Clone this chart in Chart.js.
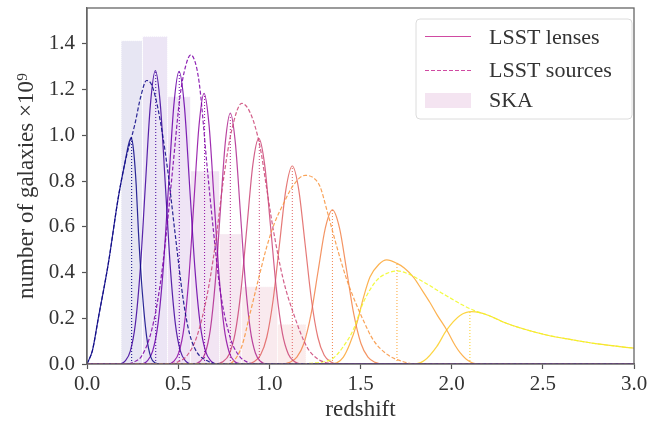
<!DOCTYPE html>
<html>
<head>
<meta charset="utf-8">
<script src="https://cdn.jsdelivr.net/npm/chart.js"></script>
<style>
  html, body { margin: 0; padding: 0; background: #fff; }
  #wrap { width: 658px; height: 424px; }
</style>
</head>
<body>
<div id="wrap"><canvas id="zchart" width="658" height="424"></canvas></div>
<script>
// redshift distributions, [z, number of galaxies x1e9]
const lens1 = [[0,0],[0.03,0.06],[0.062,0.2],[0.117,0.44],[0.172,0.73],[0.208,0.88],[0.228,0.96],[0.242,0.99],[0.256,0.93],[0.27,0.78],[0.282,0.58],[0.3,0.35],[0.327,0.12],[0.35,0.03],[0.375,0.004],[0.4,0],[3,0]];
const lens2 = [[0,0],[0.17,0],[0.21,0.014],[0.2375,0.056],[0.265,0.173],[0.2925,0.417],[0.32,0.779],[0.3475,1.132],[0.375,1.283],[0.4025,1.132],[0.43,0.779],[0.4575,0.417],[0.485,0.173],[0.5125,0.056],[0.54,0.014],[0.58,0],[3,0]];
const lens3 = [[0,0],[0.29,0],[0.331,0.014],[0.36,0.056],[0.389,0.173],[0.418,0.416],[0.447,0.777],[0.476,1.129],[0.505,1.28],[0.534,1.129],[0.563,0.777],[0.592,0.416],[0.621,0.173],[0.65,0.056],[0.679,0.014],[0.72,0],[3,0]];
const lens4 = [[0,0],[0.44,0],[0.477,0.013],[0.5045,0.052],[0.532,0.16],[0.5595,0.385],[0.587,0.719],[0.6145,1.044],[0.642,1.184],[0.6695,1.044],[0.697,0.719],[0.7245,0.385],[0.752,0.16],[0.7795,0.052],[0.807,0.013],[0.85,0],[3,0]];
const lens5 = [[0,0],[0.58,0],[0.621,0.012],[0.6485,0.048],[0.676,0.148],[0.7035,0.357],[0.731,0.666],[0.7585,0.968],[0.786,1.097],[0.8135,0.968],[0.841,0.666],[0.8685,0.357],[0.896,0.148],[0.9235,0.048],[0.951,0.012],[0.99,0],[3,0]];
const lens6 = [[0,0],[0.7,0],[0.747,0.011],[0.7795,0.043],[0.812,0.133],[0.8445,0.321],[0.877,0.599],[0.9095,0.871],[0.942,0.987],[0.9745,0.871],[1.007,0.599],[1.0395,0.321],[1.072,0.133],[1.1045,0.043],[1.137,0.011],[1.18,0],[3,0]];
const lens7 = [[0,0],[0.87,0],[0.916,0.01],[0.951,0.038],[0.986,0.117],[1.021,0.281],[1.056,0.526],[1.091,0.764],[1.126,0.866],[1.161,0.764],[1.196,0.526],[1.231,0.281],[1.266,0.117],[1.301,0.038],[1.336,0.01],[1.38,0],[3,0]];
const lens8 = [[0,0],[1.06,0],[1.112,0.007],[1.151,0.03],[1.19,0.091],[1.229,0.219],[1.268,0.409],[1.307,0.594],[1.346,0.674],[1.385,0.594],[1.424,0.409],[1.463,0.219],[1.502,0.091],[1.541,0.03],[1.58,0.007],[1.63,0],[3,0]];
const lens9 = [[0,0],[1.33,0],[1.37,0.005],[1.406,0.03],[1.44,0.085],[1.48,0.178],[1.516,0.29],[1.552,0.38],[1.6,0.435],[1.644,0.455],[1.7,0.44],[1.74,0.42],[1.79,0.38],[1.84,0.32],[1.88,0.27],[1.92,0.215],[1.973,0.149],[2.02,0.08],[2.046,0.05],[2.09,0.015],[2.14,0],[3,0]];
const lens10 = [[0,0],[1.8,0],[1.85,0.015],[1.918,0.076],[1.973,0.149],[2.046,0.212],[2.11,0.229],[2.15,0.226],[2.2,0.213],[2.3,0.178],[2.4,0.152],[2.52,0.127],[2.668,0.105],[2.8,0.088],[3,0.069]];

const source1 = [[0,0],[0.03,0.06],[0.062,0.2],[0.117,0.44],[0.172,0.73],[0.208,0.88],[0.263,1.05],[0.295,1.17],[0.327,1.24],[0.355,1.22],[0.391,1.11],[0.44,0.863],[0.483,0.572],[0.528,0.28],[0.56,0.14],[0.6,0.055],[0.657,0.015],[0.72,0],[3,0]];
const source2 = [[0,0],[0.22,0],[0.26,0.01],[0.3,0.035],[0.355,0.149],[0.4,0.34],[0.437,0.586],[0.473,0.878],[0.51,1.17],[0.54,1.3],[0.569,1.352],[0.6,1.3],[0.62,1.2],[0.657,0.878],[0.693,0.586],[0.73,0.324],[0.784,0.119],[0.83,0.04],[0.88,0.008],[0.93,0],[3,0]];
const source3 = [[0,0],[0.46,0],[0.5,0.01],[0.547,0.035],[0.602,0.119],[0.657,0.294],[0.702,0.513],[0.748,0.805],[0.794,1.024],[0.849,1.14],[0.9,1.09],[0.949,0.95],[0.985,0.77],[1.022,0.586],[1.077,0.367],[1.132,0.222],[1.205,0.076],[1.26,0.025],[1.33,0.003],[1.38,0],[3,0]];
const source4 = [[0,0],[0.76,0],[0.8,0.01],[0.85,0.08],[0.894,0.22],[0.94,0.37],[0.986,0.513],[1.03,0.62],[1.077,0.7],[1.13,0.78],[1.196,0.825],[1.24,0.815],[1.278,0.776],[1.32,0.66],[1.37,0.513],[1.42,0.38],[1.46,0.294],[1.516,0.19],[1.57,0.105],[1.65,0.04],[1.735,0.01],[1.8,0],[3,0]];
const source5 = [[0,0],[1.18,0],[1.22,0.003],[1.3,0.01],[1.35,0.025],[1.4,0.07],[1.46,0.149],[1.516,0.27],[1.59,0.367],[1.65,0.398],[1.7,0.407],[1.76,0.395],[1.827,0.367],[1.88,0.343],[1.936,0.315],[1.99,0.29],[2.06,0.258],[2.138,0.229],[2.2,0.213],[2.3,0.178],[2.4,0.152],[2.52,0.127],[2.668,0.105],[2.8,0.088],[3,0.069]];

// mean redshift of each lens bin (dotted markers) and the curve height there
const lensMeans = [0.245, 0.377, 0.506, 0.645, 0.786, 0.945, 1.126, 1.346, 1.70, 2.10];
const lensMeanHeights = [0.99, 1.28, 1.28, 1.18, 1.09, 0.985, 0.866, 0.674, 0.44, 0.229];

// SKA histogram: bin edges and heights
const skaEdges = [0.187, 0.304, 0.442, 0.568, 0.727, 0.848, 1.045, 1.201];
const skaCounts = [1.414, 1.432, 1.169, 0.844, 0.569, 0.338, 0.174];

const lensColors = ['#0d0887', '#41049d', '#6a00a8', '#8f0da4', '#b12a90', '#cc4778', '#e16462', '#f2844b', '#fca636', '#fcce25'];
const sourceColors = ['#0d0887', '#7e03a8', '#cc4778', '#f89540', '#f0f921'];
const skaColors = ['#e7e6f3', '#ece5f5', '#efe4f5', '#f2e5f3', '#f6e8f1', '#f9eaee', '#fbecec'];

const serif = "'Liberation Serif', 'Times New Roman', serif";
const textColor = '#333333';

function toPoints(arr)
{
    return arr.map(p => ({ x: p[0], y: p[1] }));
}

function buildDatasets()
{
    const sets = [];
    const lenses = [lens1, lens2, lens3, lens4, lens5, lens6, lens7, lens8, lens9, lens10];
    const sources = [source1, source2, source3, source4, source5];

    // bars go to the back
    for (let i = 0; i < skaCounts.length; i++) {
        sets.push({
            data: [
                { x: skaEdges[i], y: 0 }, { x: skaEdges[i], y: skaCounts[i] },
                { x: skaEdges[i + 1], y: skaCounts[i] }, { x: skaEdges[i + 1], y: 0 }
            ],
            showLine: true,
            fill: 'origin',
            backgroundColor: skaColors[i],
            borderColor: 'rgba(255,255,255,0.9)',
            borderWidth: 1,
            borderDash: [1, 1],
            pointRadius: 0,
            tension: 0,
            order: 5
        });
    }

    lenses.forEach((l, i) => {
        sets.push({
            data: toPoints(l),
            showLine: true,
            borderColor: lensColors[i] + 'dd',
            borderWidth: 1.2,
            pointRadius: 0,
            cubicInterpolationMode: 'monotone',
            order: 2
        });
        sets.push({
            data: [{ x: lensMeans[i], y: 0 }, { x: lensMeans[i], y: lensMeanHeights[i] }],
            showLine: true,
            borderColor: lensColors[i],
            borderWidth: 1,
            borderDash: [1, 2],
            pointRadius: 0,
            order: 3
        });
    });

    sources.forEach((s, i) => {
        sets.push({
            data: toPoints(s),
            showLine: true,
            borderColor: sourceColors[i] + 'dd',
            borderWidth: 1.2,
            borderDash: [4, 2],
            pointRadius: 0,
            cubicInterpolationMode: 'monotone',
            order: 1
        });
    });
    return sets;
}

// full box around the plot plus a matplotlib style legend
const framePlugin = {
    id: 'frame',
    afterDraw(chart) {
        const { ctx, chartArea: a } = chart;
        ctx.save();
        ctx.strokeStyle = '#666666';
        ctx.lineWidth = 1.3;
        ctx.strokeRect(a.left, a.top, a.right - a.left, a.bottom - a.top);

        const bx = 416, by = 19, bw = 216, bh = 100, r = 4;
        ctx.beginPath();
        ctx.roundRect(bx, by, bw, bh, r);
        ctx.fillStyle = 'rgba(255,255,255,0.8)';
        ctx.fill();
        ctx.strokeStyle = '#dcdcdc';
        ctx.lineWidth = 1;
        ctx.stroke();

        ctx.strokeStyle = '#d04aa2';
        ctx.lineWidth = 1.2;
        ctx.beginPath();
        ctx.moveTo(425, 36.5); ctx.lineTo(471, 36.5);
        ctx.stroke();
        ctx.setLineDash([4, 2]);
        ctx.beginPath();
        ctx.moveTo(425, 70.5); ctx.lineTo(471, 70.5);
        ctx.stroke();
        ctx.setLineDash([]);
        ctx.fillStyle = '#f4e4f1';
        ctx.fillRect(425, 93, 46, 15);

        ctx.fillStyle = textColor;
        ctx.font = '22px ' + serif;
        ctx.textBaseline = 'middle';
        ctx.textAlign = 'left';
        ctx.fillText('LSST lenses', 489, 38);
        ctx.fillText('LSST sources', 489, 71);
        ctx.fillText('SKA', 489, 101);
        ctx.restore();
    }
};

new Chart(document.getElementById('zchart'), {
    type: 'scatter',
    data: { datasets: buildDatasets() },
    options: {
        responsive: false,
        animation: false,
        layout: { padding: { top: 8, right: 24, left: 0, bottom: 0 } },
        plugins: {
            legend: { display: false },
            tooltip: { enabled: false }
        },
        scales: {
            x: {
                type: 'linear',
                min: 0,
                max: 3,
                afterFit: (s) => { s.height = 60; s.paddingLeft = 0; s.paddingRight = 0; },
                ticks: {
                    stepSize: 0.5,
                    includeBounds: false,
                    padding: 3,
                    color: textColor,
                    font: { family: serif, size: 21 },
                    callback: (v) => v.toFixed(1)
                },
                grid: { drawOnChartArea: false, drawTicks: true, tickLength: 5, color: '#555555', tickWidth: 1.2 },
                border: { color: '#666666', width: 1.3 },
                title: {
                    display: true,
                    text: 'redshift',
                    color: textColor,
                    font: { family: serif, size: 23 },
                    padding: { top: 0, bottom: 0 }
                }
            },
            y: {
                type: 'linear',
                min: 0,
                max: 1.557,
                afterFit: (s) => { s.width = 87; s.paddingTop = 0; s.paddingBottom = 0; },
                ticks: {
                    stepSize: 0.2,
                    includeBounds: false,
                    padding: 7,
                    color: textColor,
                    font: { family: serif, size: 21 },
                    callback: (v) => v.toFixed(1)
                },
                grid: { drawOnChartArea: false, drawTicks: true, tickLength: 5, color: '#555555', tickWidth: 1.2 },
                border: { color: '#666666', width: 1.3 },
                title: {
                    display: true,
                    text: 'number of galaxies \u00d710\u2079',
                    color: textColor,
                    font: { family: serif, size: 23 },
                    padding: { top: 13, bottom: 0 }
                }
            }
        }
    },
    plugins: [framePlugin]
});
</script>
</body>
</html>
